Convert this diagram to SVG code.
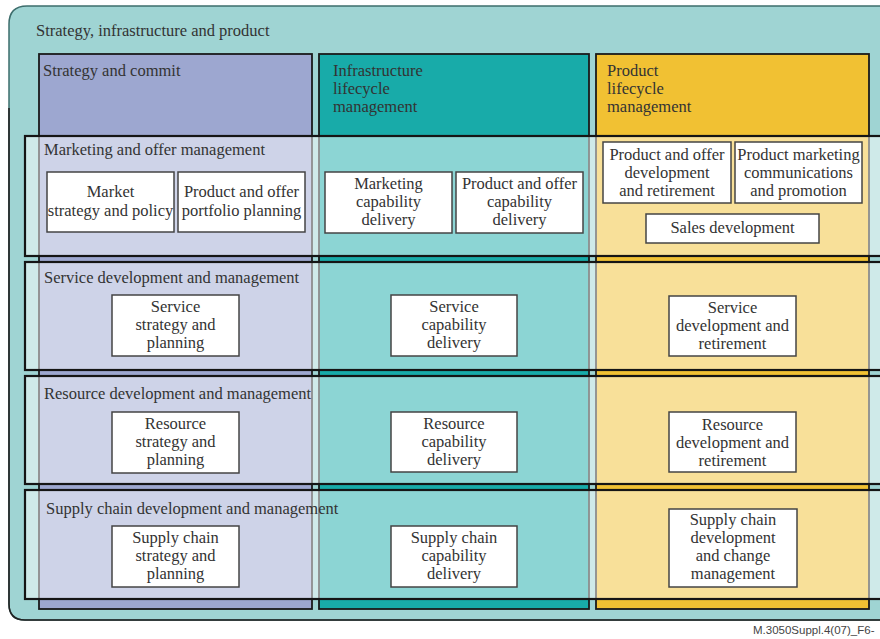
<svg xmlns="http://www.w3.org/2000/svg" width="880" height="639" viewBox="0 0 880 639">
<style>
text{font-family:"Liberation Serif","Times New Roman",serif;font-size:16.5px;fill:#333}
.c{text-anchor:middle}
.col{stroke:#1a1a1a;stroke-width:1.8}
.row{fill:#fff;fill-opacity:0.5;stroke:#151515;stroke-width:2.2}
.box{fill:#fff;stroke:#444;stroke-width:1.5}
.foot{font-family:"Liberation Sans",Arial,sans-serif;font-size:11.5px;fill:#444}
</style>
<rect width="880" height="639" fill="#fff"/>
<g id="outer">
<path d="M890 6 H27 Q9 6 9 24 V604 Q9 620 25 620 H890 Z" fill="#9fd4d3" stroke="#3d6d6c" stroke-width="1.5"/>
<path d="M9 108 V604 Q9 620 25 620 H890" fill="none" stroke="#222" stroke-width="1.6"/>
<text x="36" y="36">Strategy, infrastructure and product</text>
</g>
<g id="col-strategy">
<rect class="col" x="39" y="54" width="273" height="555" fill="#9da7d0"/>
<text x="43" y="76">Strategy and commit</text>
</g>
<g id="col-infrastructure">
<rect class="col" x="319" y="54" width="270" height="555" fill="#18aba9"/>
<text x="333" y="76">Infrastructure</text>
<text x="333" y="94">lifecycle</text>
<text x="333" y="112">management</text>
</g>
<g id="col-product">
<rect class="col" x="596" y="54" width="273" height="555" fill="#f1c133"/>
<text x="607" y="76">Product</text>
<text x="607" y="94">lifecycle</text>
<text x="607" y="112">management</text>
</g>
<g id="row-marketing">
<rect class="row" x="25" y="136" width="870" height="120"/>
<text x="44" y="155">Marketing and offer management</text>
</g>
<g id="row-service">
<rect class="row" x="25" y="262" width="870" height="108"/>
<text x="44" y="283">Service development and management</text>
</g>
<g id="row-resource">
<rect class="row" x="25" y="376" width="870" height="108"/>
<text x="44" y="399">Resource development and management</text>
</g>
<g id="row-supply">
<rect class="row" x="25" y="490" width="870" height="109"/>
<text x="46" y="514">Supply chain development and management</text>
</g>
<g id="market-strategy">
<rect class="box" x="47" y="172" width="127" height="60"/>
<text class="c" x="110.5" y="197">Market</text>
<text class="c" x="110.5" y="216">strategy and policy</text>
</g>
<g id="portfolio-planning">
<rect class="box" x="178" y="172" width="127" height="60"/>
<text class="c" x="241.5" y="197">Product and offer</text>
<text class="c" x="241.5" y="216">portfolio planning</text>
</g>
<g id="marketing-capability">
<rect class="box" x="325" y="172" width="127" height="61"/>
<text class="c" x="388.5" y="189">Marketing</text>
<text class="c" x="388.5" y="207">capability</text>
<text class="c" x="388.5" y="225">delivery</text>
</g>
<g id="offer-capability">
<rect class="box" x="456" y="172" width="127" height="61"/>
<text class="c" x="519.5" y="189">Product and offer</text>
<text class="c" x="519.5" y="207">capability</text>
<text class="c" x="519.5" y="225">delivery</text>
</g>
<g id="offer-development">
<rect class="box" x="603" y="142" width="128" height="61"/>
<text class="c" x="667" y="160">Product and offer</text>
<text class="c" x="667" y="178">development</text>
<text class="c" x="667" y="196">and retirement</text>
</g>
<g id="marketing-communications">
<rect class="box" x="735" y="142" width="127" height="61"/>
<text class="c" x="798.5" y="160">Product marketing</text>
<text class="c" x="798.5" y="178">communications</text>
<text class="c" x="798.5" y="196">and promotion</text>
</g>
<g id="sales-development">
<rect class="box" x="646" y="214" width="173" height="29"/>
<text class="c" x="732.5" y="233">Sales development</text>
</g>
<g id="service-strategy">
<rect class="box" x="112" y="295" width="127" height="61"/>
<text class="c" x="175.5" y="312">Service</text>
<text class="c" x="175.5" y="330">strategy and</text>
<text class="c" x="175.5" y="348">planning</text>
</g>
<g id="service-capability">
<rect class="box" x="391" y="295" width="126" height="61"/>
<text class="c" x="454" y="312">Service</text>
<text class="c" x="454" y="330">capability</text>
<text class="c" x="454" y="348">delivery</text>
</g>
<g id="service-development">
<rect class="box" x="669" y="296" width="127" height="60"/>
<text class="c" x="732.5" y="313">Service</text>
<text class="c" x="732.5" y="331">development and</text>
<text class="c" x="732.5" y="349">retirement</text>
</g>
<g id="resource-strategy">
<rect class="box" x="112" y="412" width="127" height="61"/>
<text class="c" x="175.5" y="429">Resource</text>
<text class="c" x="175.5" y="447">strategy and</text>
<text class="c" x="175.5" y="465">planning</text>
</g>
<g id="resource-capability">
<rect class="box" x="391" y="412" width="126" height="60"/>
<text class="c" x="454" y="429">Resource</text>
<text class="c" x="454" y="447">capability</text>
<text class="c" x="454" y="465">delivery</text>
</g>
<g id="resource-development">
<rect class="box" x="669" y="412" width="127" height="60"/>
<text class="c" x="732.5" y="430">Resource</text>
<text class="c" x="732.5" y="448">development and</text>
<text class="c" x="732.5" y="466">retirement</text>
</g>
<g id="supply-strategy">
<rect class="box" x="112" y="526" width="127" height="61"/>
<text class="c" x="175.5" y="543">Supply chain</text>
<text class="c" x="175.5" y="561">strategy and</text>
<text class="c" x="175.5" y="579">planning</text>
</g>
<g id="supply-capability">
<rect class="box" x="391" y="526" width="126" height="61"/>
<text class="c" x="454" y="543">Supply chain</text>
<text class="c" x="454" y="561">capability</text>
<text class="c" x="454" y="579">delivery</text>
</g>
<g id="supply-development">
<rect class="box" x="669" y="509" width="128" height="78"/>
<text class="c" x="733" y="525">Supply chain</text>
<text class="c" x="733" y="543">development</text>
<text class="c" x="733" y="561">and change</text>
<text class="c" x="733" y="579">management</text>
</g>
<text class="foot" x="753" y="634">M.3050Suppl.4(07)_F6-</text>
</svg>
